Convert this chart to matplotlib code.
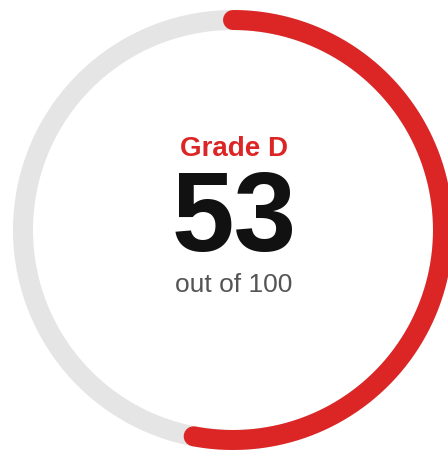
import numpy as np
import matplotlib
matplotlib.use("Agg")
import matplotlib.pyplot as plt

# gauge data
score = 53
max_score = 100
grade = "D"

W, H = 448, 453
fig = plt.figure(figsize=(W / 100, H / 100), dpi=100)
ax = fig.add_axes([0, 0, 1, 1])
ax.set_xlim(0, W)
ax.set_ylim(H, 0)
ax.axis("off")

cx, cy, r = 233, 230, 210
lw = 20 * 72 / 100  # 20 px ring

# background ring
t = np.linspace(0, 2 * np.pi, 400)
ax.plot(cx + r * np.sin(t), cy - r * np.cos(t), color="#e5e5e5", lw=lw,
        solid_capstyle="butt")

# score arc, clockwise from top
t = np.linspace(0, 2 * np.pi * score / max_score, 300)
ax.plot(cx + r * np.sin(t), cy - r * np.cos(t), color="#dc2626", lw=lw,
        solid_capstyle="round")

font = ["Liberation Sans", "DejaVu Sans"]
ax.text(234, 156, f"Grade {grade}", ha="center", va="baseline", fontsize=20,
        fontweight="bold", color="#dc2626", family=font)
ax.text(234, 251, str(score), ha="center", va="baseline", fontsize=81,
        fontweight="bold", color="#111111", family=font)
ax.text(234, 292, f"out of {max_score}", ha="center", va="baseline",
        fontsize=19, color="#555555", family=font)

fig.savefig("out.png", dpi=100)
